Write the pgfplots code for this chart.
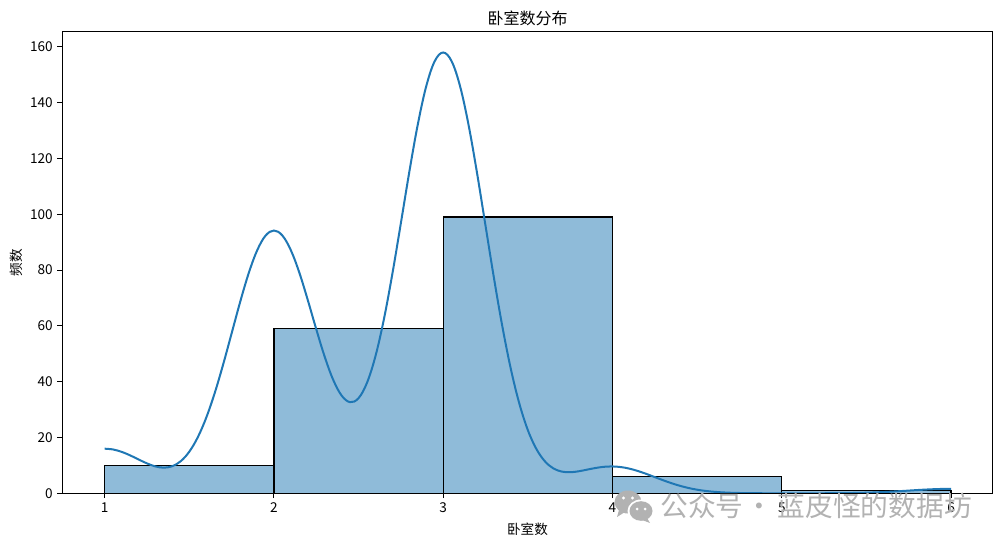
\documentclass[border=0pt]{standalone}
\usepackage{fontspec}
\setmainfont{Noto Sans CJK SC}
\usepackage{pgfplots}
\pgfplotsset{compat=1.18}

\definecolor{kdeblue}{HTML}{1F77B4}
\definecolor{wmgray}{HTML}{B2B2B2}

\begin{document}
\begin{tikzpicture}
% page = 1002x546 px, 1 px = 0.75pt, axis corner sits at px (62.3,493.3)
\path[use as bounding box] (-46.725pt,-39.525pt) rectangle ++(751.5pt,409.5pt);
\begin{axis}[
    at={(0,0)},
    anchor=south west,
    scale only axis,
    width=697.8pt,
    height=346.3pt,
    xmin=0.750, xmax=6.246,
    ymin=0, ymax=165.5,
    xtick={1,2,3,4,5,6},
    ytick={0,20,40,60,80,100,120,140,160},
    tick align=outside,
    tick pos=left,
    major tick length=3.6pt,
    every tick/.style={black,line width=0.7pt},
    axis line style={line width=0.85pt},
    axis on top,
    /pgf/number format/assume math mode=true,
    tick label style={font=\fontsize{10.2pt}{12pt}\selectfont},
    title={卧室数分布},
    title style={font=\fontsize{12pt}{14pt}\selectfont,at={(0.5,1)},anchor=south,yshift=-5pt},
    xlabel={卧室数},
    ylabel={频数},
    label style={font=\fontsize{10.2pt}{12pt}\selectfont},
    xlabel style={yshift=-1pt},
    ylabel style={yshift=-1pt},
]
% histogram
\addplot[ybar interval,draw=black,line width=1pt,fill=kdeblue,fill opacity=0.5,draw opacity=1]
coordinates {
    (1,10) (2,59) (3,99) (4,6) (5,1) (6,1)
};
% kde curve
\addplot[color=kdeblue,line width=1.5pt,smooth,tension=0.6,mark=none]
coordinates {
    (1.00,15.99) (1.05,15.71) (1.10,14.87) (1.15,13.62) (1.20,12.15)
    (1.25,10.72) (1.30,9.63) (1.35,9.19) (1.40,9.72) (1.45,11.53)
    (1.50,14.90) (1.55,20.05) (1.60,27.07) (1.65,35.87) (1.70,46.15)
    (1.75,57.28) (1.80,68.45) (1.85,78.69) (1.90,86.93) (1.95,92.31)
    (2.00,94.19) (2.05,92.40) (2.10,87.14) (2.15,79.13) (2.20,69.29)
    (2.25,58.85) (2.30,48.96) (2.35,40.70) (2.40,35.03) (2.45,32.67)
    (2.50,34.11) (2.55,39.63) (2.60,49.19) (2.65,62.48) (2.70,78.76)
    (2.75,96.84) (2.80,115.26) (2.85,132.23) (2.90,145.95) (2.95,154.90)
    (3.00,157.99) (3.05,154.84) (3.10,145.83) (3.15,131.97) (3.20,114.76)
    (3.25,95.91) (3.30,77.09) (3.35,59.61) (3.40,44.45) (3.45,32.11)
    (3.50,22.66) (3.55,15.93) (3.60,11.52) (3.65,8.96) (3.70,7.79)
    (3.75,7.55) (3.80,7.89) (3.85,8.48) (3.90,9.07) (3.95,9.50)
    (4.00,9.62) (4.05,9.40) (4.10,8.84) (4.15,7.99) (4.20,6.95)
    (4.25,5.80) (4.30,4.66) (4.35,3.59) (4.40,2.66) (4.45,1.89)
    (4.50,1.29) (4.55,0.85) (4.60,0.54) (4.65,0.33) (4.70,0.19)
    (4.75,0.11) (4.80,0.06) (4.85,0.03) (4.90,0.015) (4.95,0.007)
    (5.00,0.004) (5.05,0.001) (5.10,0.002) (5.15,0.005) (5.20,0.010)
    (5.25,0.018) (5.30,0.032) (5.35,0.054) (5.40,0.090) (5.45,0.142)
    (5.50,0.216) (5.55,0.316) (5.60,0.445) (5.65,0.600) (5.70,0.779)
    (5.75,0.970) (5.80,1.162) (5.85,1.336) (5.90,1.477) (5.95,1.568)
    (6.00,1.60)
};
\end{axis}
% watermark, in page pixels
\begin{scope}[shift={(-46.725pt,369.975pt)},x=0.75pt,y=-0.75pt]
    \fill[wmgray] (628,502) ellipse (13.5 and 11.5);
    \fill[wmgray] (619,510) -- (617,517) -- (625,512) -- cycle;
    \fill[white] (641,511) ellipse (13.5 and 11.5);
    \fill[wmgray] (641,511) ellipse (11.5 and 9.8);
    \fill[wmgray] (647,518) -- (650,523) -- (642,520) -- cycle;
    \fill[white] (623.5,498) circle (1.7) (632.5,498) circle (1.7);
    \fill[white] (637,509) circle (1.5) (645,509) circle (1.5);
    \node[anchor=west,inner sep=0pt,text=wmgray,font=\fontsize{20.8pt}{24pt}\selectfont]
        at (660,506) {公众号\hspace{-3pt} · \hspace{-1.5pt}蓝皮怪的数据坊};
\end{scope}
\end{tikzpicture}
\end{document}
